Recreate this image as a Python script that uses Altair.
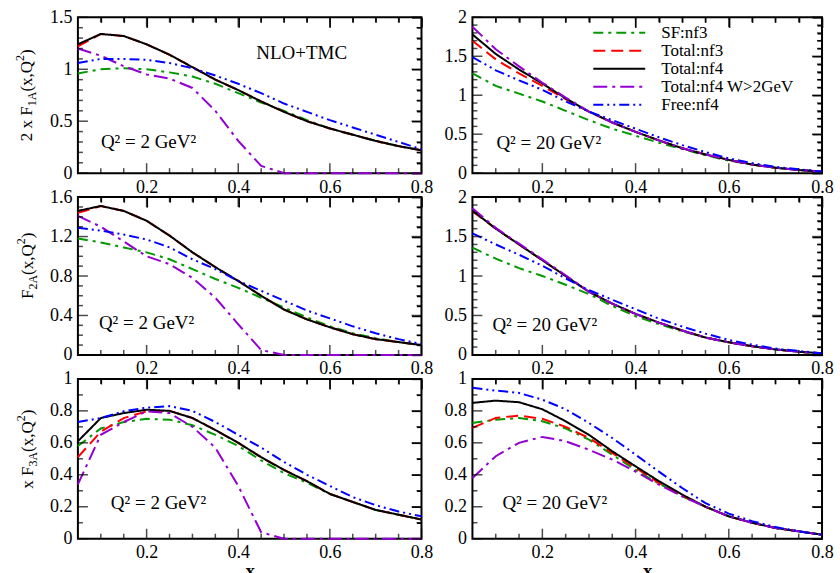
import altair as alt
import pandas as pd

FONT = "Liberation Serif"

# ---------------- data ----------------
x_vals = [0.05, 0.10, 0.15, 0.20, 0.25, 0.30, 0.35, 0.40,
          0.45, 0.50, 0.55, 0.60, 0.65, 0.70, 0.75, 0.80]

series_names = ["SF:nf3", "Total:nf3", "Total:nf4", "Total:nf4 W>2GeV", "Free:nf4"]
series_colors = ["#009900", "#ff0000", "#000000", "#9400d3", "#0000ff"]
series_dashes = [[10, 5, 3, 5], [12, 6], [1, 0], [14, 5, 3, 5], [10, 4, 2, 4, 2, 4]]

# 2xF1A, Q2 = 2 GeV^2
f1_q2_sf = [0.96, 1.00, 1.01, 1.00, 0.97, 0.93, 0.86, 0.77, 0.68, 0.60, 0.51, 0.43, 0.37, 0.31, 0.26, 0.22]
f1_q2_tot3 = [1.22, 1.34, 1.32, 1.24, 1.14, 1.02, 0.90, 0.80, 0.69, 0.59, 0.50, 0.43, 0.37, 0.31, 0.26, 0.22]
f1_q2_tot4 = [1.24, 1.34, 1.32, 1.24, 1.14, 1.02, 0.90, 0.80, 0.69, 0.59, 0.50, 0.43, 0.37, 0.31, 0.26, 0.22]
f1_q2_w2 = [1.20, 1.13, 1.03, 0.95, 0.91, 0.82, 0.60, 0.31, 0.07, 0.0, 0.0, 0.0, 0.0, 0.0, 0.0, 0.0]
f1_q2_free = [1.06, 1.10, 1.10, 1.09, 1.06, 1.01, 0.94, 0.86, 0.77, 0.67, 0.59, 0.51, 0.44, 0.37, 0.30, 0.23]

# 2xF1A, Q2 = 20 GeV^2
f1_q20_sf = [1.28, 1.12, 1.02, 0.92, 0.80, 0.68, 0.57, 0.48, 0.39, 0.31, 0.23, 0.16, 0.11, 0.07, 0.04, 0.02]
f1_q20_tot3 = [1.70, 1.46, 1.28, 1.12, 0.95, 0.79, 0.65, 0.53, 0.42, 0.32, 0.24, 0.17, 0.11, 0.07, 0.04, 0.02]
f1_q20_tot4 = [1.78, 1.53, 1.33, 1.15, 0.96, 0.79, 0.65, 0.53, 0.42, 0.32, 0.24, 0.17, 0.11, 0.07, 0.04, 0.02]
f1_q20_w2 = [1.88, 1.59, 1.37, 1.16, 0.97, 0.79, 0.65, 0.53, 0.42, 0.32, 0.24, 0.17, 0.11, 0.07, 0.04, 0.02]
f1_q20_free = [1.49, 1.32, 1.19, 1.07, 0.92, 0.79, 0.68, 0.57, 0.46, 0.36, 0.27, 0.19, 0.13, 0.08, 0.05, 0.02]

# F2A, Q2 = 2 GeV^2
f2_q2_sf = [1.18, 1.14, 1.09, 1.04, 0.97, 0.87, 0.77, 0.68, 0.58, 0.48, 0.38, 0.29, 0.22, 0.17, 0.13, 0.10]
f2_q2_tot3 = [1.44, 1.51, 1.46, 1.36, 1.21, 1.04, 0.89, 0.75, 0.60, 0.46, 0.36, 0.28, 0.21, 0.16, 0.13, 0.10]
f2_q2_tot4 = [1.46, 1.51, 1.46, 1.36, 1.21, 1.04, 0.89, 0.75, 0.60, 0.46, 0.36, 0.28, 0.21, 0.16, 0.13, 0.10]
f2_q2_w2 = [1.41, 1.30, 1.15, 1.00, 0.92, 0.78, 0.58, 0.31, 0.05, 0.0, 0.0, 0.0, 0.0, 0.0, 0.0, 0.0]
f2_q2_free = [1.29, 1.26, 1.22, 1.17, 1.09, 0.97, 0.87, 0.75, 0.65, 0.55, 0.45, 0.37, 0.29, 0.22, 0.16, 0.11]

# F2A, Q2 = 20 GeV^2
f2_q20_sf = [1.36, 1.22, 1.10, 1.00, 0.89, 0.77, 0.62, 0.49, 0.39, 0.30, 0.22, 0.16, 0.11, 0.07, 0.04, 0.02]
f2_q20_tot3 = [1.82, 1.60, 1.40, 1.20, 1.00, 0.80, 0.65, 0.52, 0.41, 0.31, 0.22, 0.16, 0.11, 0.07, 0.04, 0.02]
f2_q20_tot4 = [1.83, 1.60, 1.40, 1.20, 1.00, 0.80, 0.65, 0.52, 0.41, 0.31, 0.22, 0.16, 0.11, 0.07, 0.04, 0.02]
f2_q20_w2 = [1.86, 1.61, 1.41, 1.21, 1.01, 0.80, 0.65, 0.52, 0.41, 0.31, 0.22, 0.16, 0.11, 0.07, 0.04, 0.02]
f2_q20_free = [1.54, 1.40, 1.27, 1.13, 0.97, 0.82, 0.70, 0.58, 0.46, 0.36, 0.27, 0.19, 0.13, 0.08, 0.05, 0.02]

# xF3A, Q2 = 2 GeV^2
f3_q2_sf = [0.58, 0.69, 0.73, 0.75, 0.745, 0.71, 0.65, 0.58, 0.49, 0.41, 0.35, 0.28, 0.23, 0.18, 0.15, 0.12]
f3_q2_tot3 = [0.51, 0.67, 0.755, 0.797, 0.80, 0.755, 0.68, 0.60, 0.51, 0.43, 0.36, 0.28, 0.23, 0.18, 0.15, 0.12]
f3_q2_tot4 = [0.61, 0.755, 0.786, 0.807, 0.80, 0.755, 0.68, 0.60, 0.51, 0.43, 0.36, 0.28, 0.23, 0.18, 0.15, 0.12]
f3_q2_w2 = [0.34, 0.65, 0.73, 0.797, 0.786, 0.70, 0.57, 0.33, 0.04, 0.0, 0.0, 0.0, 0.0, 0.0, 0.0, 0.0]
f3_q2_free = [0.73, 0.755, 0.797, 0.82, 0.83, 0.80, 0.73, 0.65, 0.57, 0.48, 0.40, 0.33, 0.26, 0.21, 0.17, 0.14]

# xF3A, Q2 = 20 GeV^2
f3_q20_sf = [0.724, 0.745, 0.755, 0.735, 0.69, 0.62, 0.526, 0.43, 0.345, 0.265, 0.20, 0.14, 0.10, 0.067, 0.046, 0.025]
f3_q20_tot3 = [0.693, 0.756, 0.77, 0.75, 0.70, 0.63, 0.537, 0.443, 0.35, 0.27, 0.20, 0.14, 0.10, 0.067, 0.046, 0.025]
f3_q20_tot4 = [0.85, 0.864, 0.854, 0.81, 0.735, 0.65, 0.547, 0.453, 0.36, 0.276, 0.20, 0.14, 0.10, 0.067, 0.046, 0.025]
f3_q20_w2 = [0.38, 0.516, 0.60, 0.637, 0.61, 0.557, 0.495, 0.42, 0.338, 0.265, 0.20, 0.14, 0.10, 0.067, 0.046, 0.025]
f3_q20_free = [0.944, 0.927, 0.912, 0.87, 0.81, 0.724, 0.63, 0.526, 0.42, 0.317, 0.223, 0.157, 0.11, 0.073, 0.046, 0.025]

x_major = [0.2, 0.4, 0.6, 0.8]
x_minor = [0.1, 0.15, 0.25, 0.3, 0.35, 0.45, 0.5, 0.55, 0.65, 0.7, 0.75]

# Times / Liberation Serif advance widths (em)
CHAR_W = {"2": 0.5, "1": 0.5, "3": 0.5, " ": 0.25, "x": 0.5, "F": 0.556, "A": 0.722,
          "(": 0.333, ")": 0.333, ",": 0.25, "Q": 0.722}


def make_df(lists):
    rows = []
    for name, ys in zip(series_names, lists):
        for xv, yv in zip(x_vals, ys):
            rows.append({"x": xv, "y": yv, "series": name})
    return pd.DataFrame(rows)


def frange(a, b, step):
    n = int(round((b - a) / step))
    return [round(a + i * step, 4) for i in range(n + 1)]


def text_layer(text, x, y, size, align="left", angle=0, weight="normal"):
    kw = dict(text=text, align=align, baseline="alphabetic", font=FONT, fontSize=size,
              color="black", fontWeight=weight)
    if angle:
        kw["angle"] = angle
    return alt.Chart(alt.Data(values=[{"k": 0}])).mark_text(**kw).encode(
        x=alt.value(x), y=alt.value(y))


def ytitle_layers(pieces, x0, y0):
    out = []
    y = y0
    for txt, size, shift in pieces:
        out.append(text_layer(txt, x0 + shift, y, size, angle=270))
        y -= sum(CHAR_W[c] for c in txt) * size
    return out


def panel(lists, ymax, ymajor, w, h, qtext, qx, qy, ytitle=None, show_legend=False,
          xtitle=False, extra=None):
    df = make_df(lists)
    xs = alt.Scale(domain=[0.05, 0.8], nice=False, zero=False)
    ys = alt.Scale(domain=[0, ymax], nice=False, zero=False)
    y_major = frange(0, ymax, ymajor)
    y_minor = [v for v in frange(0, ymax, 0.1) if all(abs(v - m) > 1e-6 for m in y_major)]

    if show_legend:
        leg = alt.Legend(orient="none", legendX=120, legendY=8, title=None,
                         symbolType="stroke", symbolSize=2704, symbolStrokeWidth=2,
                         labelFont=FONT, labelFontSize=17, labelColor="black",
                         labelOffset=15, clipHeight=15, rowPadding=0, padding=0,
                         labelLimit=400)
    else:
        leg = None

    xaxis_kw = dict(orient="bottom", values=x_major, format="~g", ticks=False, domain=False,
                    grid=False, labelFont=FONT, labelFontSize=18, labelColor="black",
                    labelPadding=5, labelFlush=False)
    if xtitle:
        xaxis_kw.update(title="x", titleFont=FONT, titleFontSize=19, titleFontWeight="bold",
                        titleColor="black", titlePadding=0)
    else:
        xaxis_kw.update(title=None)

    lines = alt.Chart(df).mark_line(strokeWidth=2).encode(
        x=alt.X("x:Q", scale=xs, axis=alt.Axis(**xaxis_kw)),
        y=alt.Y("y:Q", scale=ys, axis=alt.Axis(orient="left", values=y_major, format="~g",
                                                ticks=False, domain=False, grid=False,
                                                labelFont=FONT, labelFontSize=18,
                                                labelColor="black", labelPadding=6,
                                                labelFlush=False, title=None)),
        color=alt.Color("series:N", scale=alt.Scale(domain=series_names, range=series_colors),
                        legend=leg),
        strokeDash=alt.StrokeDash("series:N",
                                  scale=alt.Scale(domain=series_names, range=series_dashes),
                                  legend=leg),
    )

    # inward tick marks on all four sides (axis ticks pulled inside the frame)
    def axis_ticks(ox, oy, xv, yv, size):
        tk = dict(labels=False, ticks=True, tickSize=size, offset=-size,
                  tickColor="black", tickWidth=1.5, domain=False, grid=False, title=None)
        return alt.Chart(df).mark_point(opacity=0).encode(
            x=alt.X("x:Q", scale=xs, axis=alt.Axis(orient=ox, values=xv, **tk)),
            y=alt.Y("y:Q", scale=ys, axis=alt.Axis(orient=oy, values=yv, **tk)),
        )

    # the same ticks drawn as tick marks placed through the panel's scales
    def xticks(values, center, length):
        return alt.Chart(pd.DataFrame({"v": values})).mark_tick(
            color="black", thickness=1.5, size=length, orient="vertical").encode(
            x=alt.X("v:Q", scale=xs, axis=None), y=alt.value(center))

    def yticks(values, center, length):
        return alt.Chart(pd.DataFrame({"v": values})).mark_tick(
            color="black", thickness=1.5, size=length, orient="horizontal").encode(
            y=alt.Y("v:Q", scale=ys, axis=None), x=alt.value(center))

    ticks = [axis_ticks("top", "right", x_major, y_major, 10),
             axis_ticks("top", "right", x_minor, y_minor, 5),
             xticks(x_major, h - 5, 10), xticks(x_minor, h - 2.5, 5),
             xticks(x_major, 5, 10), xticks(x_minor, 2.5, 5),
             yticks(y_major, 5, 10), yticks(y_minor, 2.5, 5),
             yticks(y_major, w - 5, 10), yticks(y_minor, w - 2.5, 5)]

    layers = [lines] + ticks + [text_layer(qtext, qx, qy, 19)]
    if ytitle:
        layers += ytitle
    if extra:
        layers += extra
    return alt.layer(*layers).resolve_axis(x="independent", y="independent").properties(
        width=w, height=h)


WL, WR = 344, 350
H1, H2, H3 = 156, 158, 160

p1 = panel([f1_q2_sf, f1_q2_tot3, f1_q2_tot4, f1_q2_w2, f1_q2_free], 1.5, 0.5, WL, H1,
           "Q² = 2 GeV²", 23, 131,
           ytitle=ytitle_layers([("2 x F", 17, 0), ("1A", 12, 4), ("(x,Q", 17, 0),
                                 ("2", 12, -8), (")", 17, 0)], -46, 124),
           extra=[text_layer("NLO+TMC", 224, 42, 19, align="center")])
p2 = panel([f1_q20_sf, f1_q20_tot3, f1_q20_tot4, f1_q20_w2, f1_q20_free], 2.0, 0.5, WR, H1,
           "Q² = 20 GeV²", 24, 132, show_legend=True)
p3 = panel([f2_q2_sf, f2_q2_tot3, f2_q2_tot4, f2_q2_w2, f2_q2_free], 1.6, 0.4, WL, H2,
           "Q² = 2 GeV²", 21, 132,
           ytitle=ytitle_layers([("F", 17, 0), ("2A", 12, 4), ("(x,Q", 17, 0),
                                 ("2", 12, -8), (")", 17, 0)], -45, 102))
p4 = panel([f2_q20_sf, f2_q20_tot3, f2_q20_tot4, f2_q20_w2, f2_q20_free], 2.0, 0.5, WR, H2,
           "Q² = 20 GeV²", 20, 134)
p5 = panel([f3_q2_sf, f3_q2_tot3, f3_q2_tot4, f3_q2_w2, f3_q2_free], 1.0, 0.2, WL, H3,
           "Q² = 2 GeV²", 33, 130, xtitle=True,
           ytitle=ytitle_layers([("x F", 17, 0), ("3A", 12, 4), ("(x,Q", 17, 0),
                                 ("2", 12, -8), (")", 17, 0)], -45, 110))
p6 = panel([f3_q20_sf, f3_q20_tot3, f3_q20_tot4, f3_q20_w2, f3_q20_free], 1.0, 0.2, WR, H3,
           "Q² = 20 GeV²", 30, 130, xtitle=True)

chart = alt.ConcatChart(
    concat=[p1, p2, p3, p4, p5, p6], columns=2,
    spacing={"row": 24, "column": 51}, bounds="flush", align="each",
).resolve_legend(color="independent", strokeDash="independent").properties(
    padding={"left": 13, "top": 7, "right": 5, "bottom": 0},
).configure_view(stroke="black", strokeWidth=2)

chart.save("out.html", embed_options={"renderer": "svg", "actions": False})
